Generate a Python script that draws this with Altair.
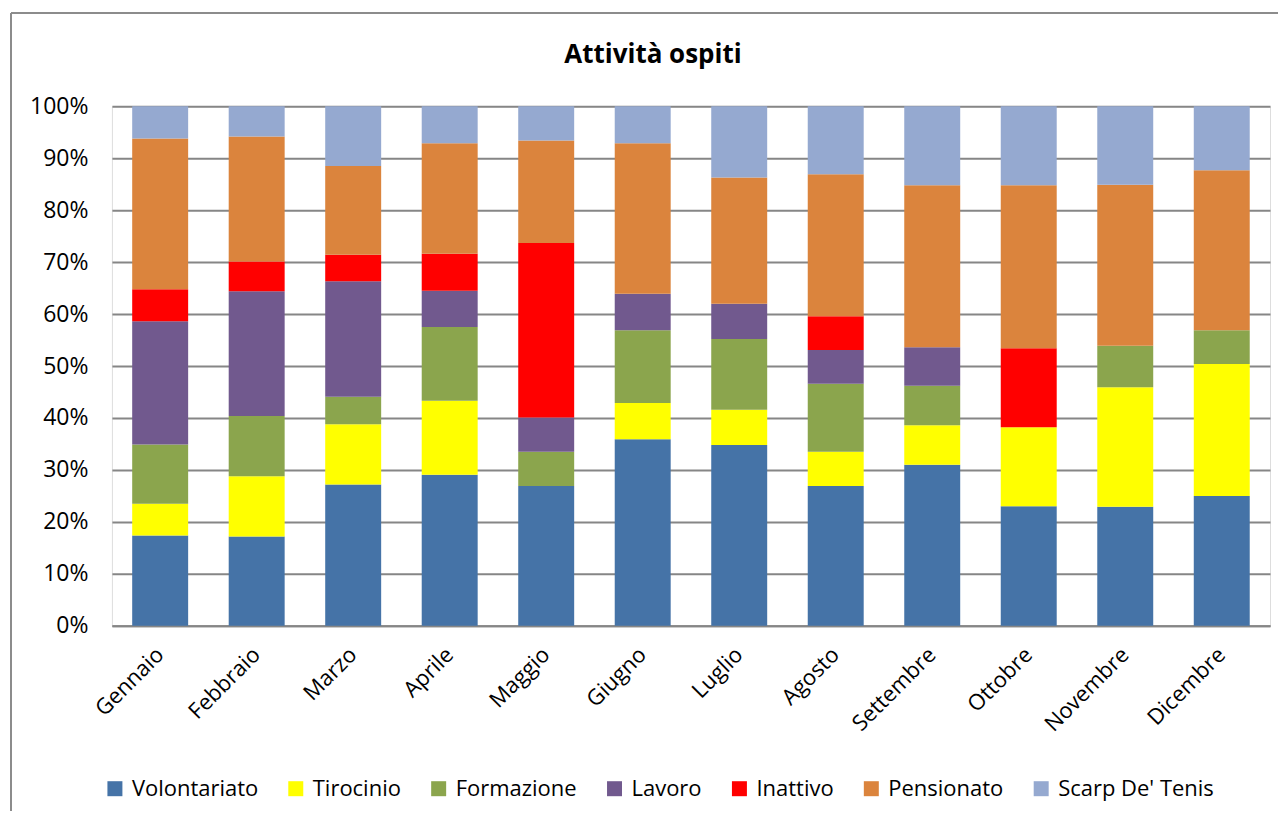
import altair as alt
import pandas as pd

months = ["Gennaio", "Febbraio", "Marzo", "Aprile", "Maggio", "Giugno",
          "Luglio", "Agosto", "Settembre", "Ottobre", "Novembre", "Dicembre"]

series = ["Volontariato", "Tirocinio", "Formazione", "Lavoro", "Inattivo",
          "Pensionato", "Scarp De' Tenis"]

volontariato = [17.4, 17.2, 27.2, 29.1, 26.9, 35.9, 34.8, 26.9, 31.0, 23.0, 22.9, 25.0]
tirocinio    = [6.1, 11.6, 11.6, 14.2, 0.0, 7.0, 6.8, 6.6, 7.6, 15.2, 23.0, 25.4]
formazione   = [11.4, 11.6, 5.3, 14.2, 6.6, 14.0, 13.6, 13.1, 7.6, 0.0, 8.0, 6.5]
lavoro       = [23.7, 24.0, 22.2, 7.0, 6.6, 7.0, 6.8, 6.5, 7.4, 0.0, 0.0, 0.0]
inattivo     = [6.2, 5.7, 5.1, 7.1, 33.6, 0.0, 0.0, 6.5, 0.0, 15.2, 0.0, 0.0]
pensionato   = [29.0, 24.1, 17.1, 21.3, 19.7, 29.0, 24.3, 27.3, 31.2, 31.4, 31.0, 30.8]
scarp        = [6.2, 5.8, 11.5, 7.1, 6.6, 7.1, 13.7, 13.1, 15.2, 15.2, 15.1, 12.3]

colors = ["#4573a7", "#ffff00", "#8ba54d", "#71598e", "#ff0000", "#db843d", "#95a9d0"]

values = [volontariato, tirocinio, formazione, lavoro, inattivo, pensionato, scarp]
rows = []
for si, (name, vals) in enumerate(zip(series, values)):
    for m, v in zip(months, vals):
        rows.append({"Mese": m, "Serie": name, "Valore": v, "ordine": si})
df = pd.DataFrame(rows)

FONT = "Open Sans"

bars = alt.Chart(df).mark_bar(size=56).encode(
    x=alt.X("Mese:N", sort=months, title=None,
            axis=alt.Axis(labelAngle=-45, labelFontSize=22, labelFont=FONT,
                          labelColor="#000000", labelPadding=25, ticks=False,
                          domainColor="#868686", domainWidth=2,
                          labelAlign="right", labelBaseline="middle")),
    y=alt.Y("Valore:Q", stack="normalize", title=None,
            scale=alt.Scale(domain=[0, 1]),
            axis=alt.Axis(format="%", values=[i / 10 for i in range(11)],
                          labelFontSize=23, labelFont=FONT, labelColor="#000000",
                          ticks=False, domain=False, labelPadding=24,
                          grid=True, gridColor="#868686", gridWidth=2)),
    color=alt.Color("Serie:N", sort=series,
                    scale=alt.Scale(domain=series, range=colors),
                    legend=alt.Legend(title=None, orient="none", direction="horizontal",
                                      columns=7, legendX=-8, legendY=672,
                                      symbolType="square", symbolSize=225,
                                      symbolStrokeWidth=0, labelFontSize=22,
                                      labelFont=FONT, labelColor="#000000",
                                      labelOffset=6, columnPadding=26)),
    order=alt.Order("ordine:Q", sort="ascending"),
)

left_border = alt.Chart(df).mark_rule(color="#8c8c8c", strokeWidth=1.5).encode(
    x=alt.value(-101), y=alt.value(-93), y2=alt.value(705))
top_border = alt.Chart(df).mark_rule(color="#8c8c8c", strokeWidth=1.5).encode(
    x=alt.value(-101), x2=alt.value(1167), y=alt.value(-93))

chart = alt.layer(bars, left_border, top_border).properties(
    width=1159, height=520,
    title=alt.TitleParams("Attività ospiti", fontSize=26, font=FONT, fontWeight="bold",
                          color="#000000", anchor="middle", dx=-38, offset=-76,
                          baseline="alphabetic"),
    padding={"left": 2, "top": 4, "right": 0, "bottom": 0},
).configure_view(stroke=None).configure(background="white")

chart.save("out.html", embed_options={"renderer": "svg", "actions": False})
